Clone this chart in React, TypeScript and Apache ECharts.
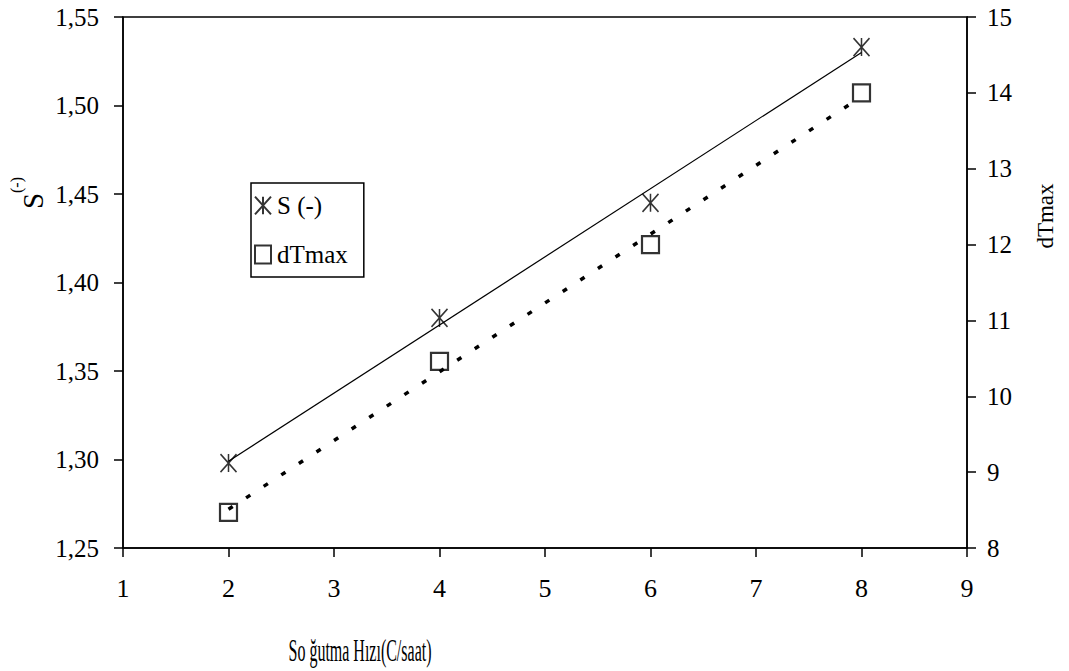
import React, { useEffect, useRef } from "react";
import * as echarts from "echarts";

const xValues = [2, 4, 6, 8];
const sValues = [1.298, 1.38, 1.445, 1.533];
const dTmaxValues = [8.47, 10.46, 12.0, 14.0];
const sTrendX = [2, 8];
const sTrendY = [1.299, 1.53];
const dTrendX = [2, 8];
const dTrendY = [8.51, 13.95];
const leftTicks = { min: 1.25, max: 1.55, interval: 0.05 };
const rightTicks = { min: 8, max: 15, interval: 1 };
const xTicks = { min: 1, max: 9, interval: 1 };

const FONT = "Liberation Serif";
const ASTERISK = "path://M0,0L20,22M20,0L0,22M10,0L10,22";

export default function App() {
  const ref = useRef<HTMLDivElement>(null);
  useEffect(() => {
    if (!ref.current) return;
    const chart = echarts.init(ref.current, null, { renderer: "svg" });
    const axisCommon = {
      axisLine: { show: true, lineStyle: { color: "#000", width: 1.5 } },
      axisTick: { show: true, length: 9, lineStyle: { color: "#000", width: 1.5 } },
      splitLine: { show: false },
    };
    const txt = (text: string, size: number) => ({
      text,
      fontFamily: FONT,
      fontSize: size,
      fill: "#000",
      align: "center",
      verticalAlign: "middle",
    });
    chart.setOption({
      animation: false,
      backgroundColor: "#fff",
      textStyle: { fontFamily: FONT },
      grid: {
        left: 123,
        right: 102,
        top: 17,
        bottom: 123,
        containLabel: false,
        outerBoundsMode: "none",
        show: true,
        borderColor: "#000",
        borderWidth: 1.5,
        backgroundColor: "transparent",
      },
      legend: {
        data: ["S (-)", "dTmax"],
        orient: "vertical",
        left: 251,
        top: 183,
        borderColor: "#000",
        borderWidth: 1.5,
        padding: [10, 16, 10, 3],
        itemGap: 24,
        itemWidth: 16,
        itemHeight: 18,
        textStyle: { fontFamily: FONT, fontSize: 25, color: "#000", padding: [0, 0, 0, 1] },
      },
      xAxis: {
        type: "value",
        ...xTicks,
        ...axisCommon,
        axisLabel: { fontFamily: FONT, fontSize: 26, color: "#000", margin: 27 },
      },
      yAxis: [
        {
          type: "value",
          position: "left",
          ...leftTicks,
          ...axisCommon,
          axisLabel: {
            fontFamily: FONT,
            fontSize: 25,
            color: "#000",
            margin: 24,
            formatter: (v: number) => v.toFixed(2).replace(".", ","),
          },
        },
        {
          type: "value",
          position: "right",
          ...rightTicks,
          ...axisCommon,
          axisLabel: { fontFamily: FONT, fontSize: 25, color: "#000", margin: 20 },
        },
      ],
      graphic: [
        { type: "text", x: 33, y: 201, rotation: Math.PI / 2, style: txt("S", 29) },
        { type: "text", x: 16, y: 185, rotation: Math.PI / 2, style: txt("(-)", 16) },
        { type: "text", x: 1045, y: 216, rotation: Math.PI / 2, style: txt("dTmax", 23) },
        { type: "text", x: 360, y: 650, scaleX: 0.5, style: txt("So ğutma Hızı(C/saat)", 32) },
      ],
      series: [
        {
          name: "S trend",
          type: "line",
          yAxisIndex: 0,
          data: sTrendX.map((x, i) => [x, sTrendY[i]]),
          showSymbol: false,
          symbol: "none",
          lineStyle: { color: "#000", width: 1.2 },
          z: 2,
        },
        {
          name: "dTmax trend",
          type: "line",
          yAxisIndex: 1,
          data: dTrendX.map((x, i) => [x, dTrendY[i]]),
          showSymbol: false,
          symbol: "none",
          lineStyle: { color: "#000", width: 3.5, type: [5, 16] },
          z: 2,
        },
        {
          name: "S (-)",
          type: "scatter",
          yAxisIndex: 0,
          data: xValues.map((x, i) => [x, sValues[i]]),
          symbol: ASTERISK,
          symbolSize: [16, 18],
          itemStyle: { color: "transparent", borderColor: "#000", borderWidth: 1.6 },
          z: 3,
        },
        {
          name: "dTmax",
          type: "scatter",
          yAxisIndex: 1,
          data: xValues.map((x, i) => [x, dTmaxValues[i]]),
          symbol: "rect",
          symbolSize: 17,
          itemStyle: { color: "transparent", borderColor: "#000", borderWidth: 2.2 },
          z: 3,
        },
      ],
    });
    return () => chart.dispose();
  }, []);
  return (
    <div
      ref={ref}
      style={{ position: "fixed", left: 0, top: 0, width: 1069, height: 671, background: "#fff" }}
    />
  );
}
